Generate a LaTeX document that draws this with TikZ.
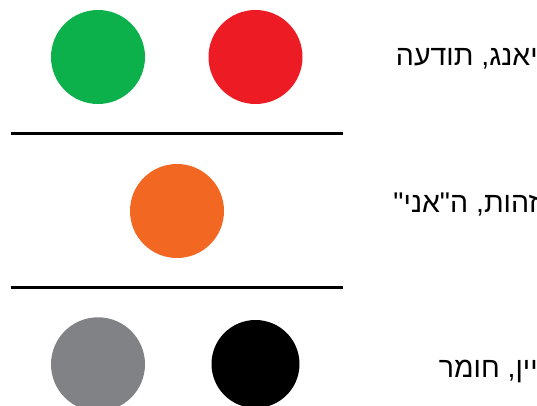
\documentclass[tikz,border=0pt]{standalone}
\usepackage{fontspec}
\setmainfont{Liberation Sans}
\newfontfamily\hebfont[Script=Hebrew]{Liberation Sans}
\TeXXeTstate=1
\usetikzlibrary{positioning}
\definecolor{yanggreen}{HTML}{0DB14B}
\definecolor{yangred}{HTML}{ED1C24}
\definecolor{selforange}{HTML}{F26722}
\definecolor{yingray}{HTML}{808285}
\tikzset{
  dot/.style={circle, minimum size=94pt, inner sep=0pt, draw=none},
  rowlabel/.style={anchor=base east, inner sep=0pt, font=\fontsize{28.5}{34}\selectfont\hebfont},
  divider/.style={line width=3pt}
}
\begin{document}
\begin{tikzpicture}[x=1pt, y=-1pt]
\useasboundingbox (0,0) rectangle (537,406);
\node[dot, fill=yanggreen] (G) at (98, 57) {};
\node[dot, fill=yangred] (R) at (255.5, 57) {};
\node[rowlabel] (L1) at (538, 66) {\beginR יאנג, תודעה\endR};
\coordinate (A1) at (11, 133.3);
\coordinate (B1) at (342.7, 133.3);
\draw[divider] (A1) -- (B1);
\node[dot, fill=selforange] (O) at (177, 211) {};
\node[rowlabel] (L2) at (538, 212) {\beginR זהות, ה"אני"\endR};
\coordinate (A2) at (11, 287.3);
\coordinate (B2) at (342.7, 287.3);
\draw[divider] (A2) -- (B2);
\node[dot, fill=yingray] (Y) at (98, 364.3) {};
\node[dot, fill=black, minimum size=88pt] (K) at (255.5, 364) {};
\node[rowlabel] (L3) at (538, 377) {\beginR יין, חומר\endR};
\end{tikzpicture}
\end{document}
